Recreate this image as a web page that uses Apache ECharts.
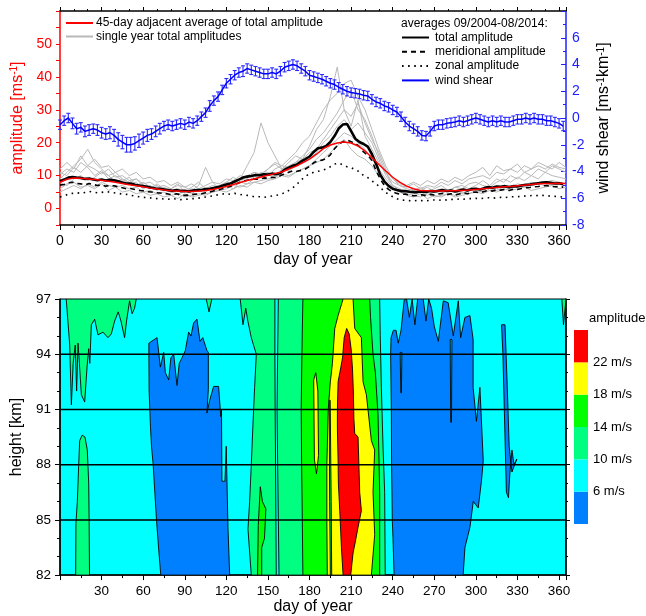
<!DOCTYPE html>
<html><head><meta charset="utf-8">
<script src="https://cdn.jsdelivr.net/npm/echarts@6/dist/echarts.min.js"></script>
<style>html,body{margin:0;padding:0;background:#fff}#c{width:646px;height:616px}</style>
</head><body><div id="c"></div>
<script>
const FONT = 'Liberation Sans, Arial, sans-serif';

// ===== top panel: daily means sampled every 3 days (day 0..363) =====
const totalAmp = [
8.3,8.8,9.4,9.6,9.4,9.3,9.0,9.1,8.8,8.6,
8.8,8.5,8.7,8.6,8.3,7.9,7.6,7.6,7.2,7.0,
6.8,6.6,6.3,6.1,6.0,5.8,5.6,5.4,5.6,5.3,
5.4,5.2,5.5,5.6,5.6,5.9,6.0,6.2,6.5,6.9,
7.3,7.6,8.2,8.8,9.4,9.7,9.9,10.2,10.1,10.4,
10.3,10.6,10.4,10.8,11.8,12.4,13.0,13.4,14.3,15.0,
15.8,17.2,18.3,18.5,19.0,20.2,22.0,24.3,25.5,25.7,
23.5,21.2,20.2,19.6,18.8,16.5,13.6,10.3,8.2,6.9,
6.0,5.6,5.3,5.3,5.1,5.0,5.0,5.2,5.0,5.3,
5.2,5.4,5.6,5.3,5.5,5.2,5.5,5.8,5.5,5.9,
6.0,5.8,6.2,6.5,6.3,6.7,6.6,6.8,6.5,6.8,
6.7,7.0,7.2,7.3,7.5,7.7,7.9,8.0,7.8,7.6,
7.7,7.4];
const meridAmp = [
7.1,7.3,7.8,8.0,7.6,7.5,7.2,7.6,7.3,7.0,
7.2,6.8,7.0,6.9,6.6,6.3,6.0,6.1,5.8,5.5,
5.4,5.1,5.0,4.8,4.7,4.6,4.4,4.2,4.5,4.1,
4.0,4.1,4.3,4.4,4.5,4.8,5.0,5.4,5.6,6.0,
6.4,6.8,7.3,7.8,8.3,8.6,8.8,9.0,8.9,9.3,
9.2,9.5,9.4,10.0,10.5,11.0,11.5,11.3,11.6,12.0,
12.8,13.9,14.5,14.7,15.2,16.3,18.2,19.5,20.3,20.8,
20.3,19.8,18.8,17.2,16.2,14.6,11.5,9.0,7.0,5.8,
5.0,4.6,4.3,4.4,4.1,3.9,4.0,4.2,3.9,4.3,
4.1,4.4,4.6,4.2,4.5,4.1,4.4,4.8,4.5,4.9,
5.0,4.8,5.2,5.5,5.3,5.7,5.6,5.8,5.5,5.9,
5.8,6.1,6.3,6.4,6.6,6.7,6.9,7.0,6.8,6.6,
6.7,6.5];
const zonalAmp = [
3.5,3.8,4.4,4.6,4.8,4.6,4.9,5.2,5.0,4.8,
4.9,5.1,5.0,4.8,4.6,4.4,4.3,4.0,3.8,3.6,
3.4,3.3,3.2,3.0,3.1,2.9,2.8,3.0,2.9,2.7,
2.9,2.8,3.0,3.1,3.3,3.5,3.7,3.9,4.2,4.4,
4.5,4.3,4.6,4.4,4.1,4.0,3.8,3.5,3.6,3.4,
3.6,3.8,4.0,4.3,4.8,5.5,6.3,7.4,8.7,9.8,
10.5,11.0,11.3,11.6,12.0,12.7,13.5,13.8,13.3,12.7,
12.4,11.8,11.2,10.0,9.4,8.4,7.5,6.4,5.2,4.3,
3.6,3.0,2.6,2.5,2.4,2.3,2.5,2.4,2.3,2.5,
2.6,2.5,2.7,2.6,2.8,2.7,2.9,2.8,3.0,3.0,
3.1,3.0,3.2,3.3,3.1,3.3,3.4,3.3,3.5,3.6,
3.6,3.7,3.8,3.9,4.0,3.9,4.0,3.9,3.8,3.7,
3.6,3.5];
const windShear = [
-0.5,-0.2,0.0,-0.4,-0.8,-0.7,-1.0,-0.9,-0.8,-0.9,
-1.1,-1.2,-1.1,-1.3,-1.6,-1.8,-2.0,-2.0,-1.9,-1.7,
-1.5,-1.3,-1.2,-1.0,-0.8,-0.6,-0.5,-0.6,-0.5,-0.4,
-0.5,-0.3,-0.4,-0.2,0.1,0.4,0.9,1.3,1.6,2.1,
2.6,2.9,3.2,3.4,3.5,3.7,3.6,3.5,3.4,3.3,
3.3,3.4,3.3,3.5,3.8,3.9,4.0,3.9,3.7,3.5,
3.2,3.1,3.0,2.9,2.75,2.6,2.5,2.3,2.15,2.0,
1.9,1.85,1.8,1.7,1.65,1.4,1.2,1.1,0.9,0.8,
0.6,0.45,0.1,-0.3,-0.6,-0.8,-1.0,-1.3,-1.35,-1.0,
-0.6,-0.5,-0.5,-0.4,-0.35,-0.3,-0.2,-0.3,-0.2,-0.1,
0.0,-0.1,-0.2,-0.3,-0.2,-0.3,-0.2,-0.3,-0.3,-0.2,
-0.1,-0.1,0.0,-0.1,0.0,-0.1,-0.1,-0.2,-0.2,-0.3,
-0.4,-0.6];
const windErr = [
0.35,0.35,0.35,0.4,0.4,0.35,0.4,0.4,0.35,0.4,
0.4,0.4,0.45,0.45,0.5,0.5,0.55,0.55,0.5,0.5,
0.45,0.45,0.4,0.4,0.4,0.35,0.35,0.35,0.35,0.35,
0.35,0.35,0.35,0.35,0.35,0.35,0.4,0.35,0.35,0.35,
0.35,0.35,0.35,0.35,0.4,0.35,0.35,0.35,0.35,0.35,
0.35,0.35,0.35,0.35,0.35,0.35,0.35,0.35,0.35,0.35,
0.35,0.35,0.35,0.35,0.35,0.35,0.35,0.35,0.35,0.35,
0.35,0.35,0.35,0.35,0.35,0.35,0.35,0.35,0.35,0.35,
0.35,0.35,0.35,0.35,0.35,0.35,0.35,0.35,0.35,0.35,
0.35,0.35,0.35,0.35,0.35,0.35,0.35,0.35,0.35,0.35,
0.35,0.35,0.35,0.35,0.35,0.35,0.35,0.35,0.35,0.35,
0.35,0.35,0.35,0.35,0.35,0.35,0.35,0.35,0.35,0.35,
0.35,0.35];

// 45-day running mean, every 5 days (day 0..365)
const avg45 = [
8.0,8.9,9.3,9.2,9.0,8.8,8.6,8.3,8.0,7.6,
7.2,6.9,6.6,6.2,5.9,5.6,5.4,5.3,5.2,5.2,
5.3,5.5,5.8,6.2,6.7,7.3,7.9,8.5,9.0,9.6,
10.1,10.6,11.1,12.0,12.8,13.9,15.0,16.5,18.2,19.3,
19.9,20.2,19.9,19.0,17.5,15.5,13.4,11.4,9.5,8.0,
6.8,6.0,5.5,5.4,5.3,5.3,5.4,5.4,5.5,5.6,
5.8,6.0,6.2,6.4,6.6,6.7,6.9,7.1,7.3,7.5,
7.6,7.6,7.7,7.6];

// single years, every 5 days (day 0..365)
const year1 = [10.5,12,11,14,12.5,10,11.5,9,10,8.5, 9.5,7,8,6.5,7,5.5,6,7.5,5,6.5, 8,6,7,6.5,8,9.5,8,10,11,9.5, 12,13.5,12,14,16,15,19,24,27,34, 43,30,25,33,22,18,14,11,8,7, 6,5.5,6.5,5,6,7,5.5,6.5,6,7.5, 8,7,6.5,8,9,8,9.5,8.5,10,9, 11,10,9.5,9];
const year2 = [6,7.5,8,6.5,7,6,7.5,5.5,6.5,5, 5.5,4.5,5,4,4.5,3.5,4,3,4.5,3.5, 4,4.5,5,5.5,5,6,7,6.5,8,7.5, 8.5,9,10,9.5,11,12,13,14,15,17, 19,21,18,16,15,13,10,8,6,5, 4.5,4,3.5,4.5,3.5,4,4.5,3.5,4,4.5, 5,4.5,5.5,5,6,5.5,6,6.5,5.5,6, 6.5,7,6,6.5];
const year3 = [9,11,13,15,18,14,12,10,11,9, 8,9,7,6,7.5,6,5,6,5.5,4.5, 6,5,6.5,7,8,7.5,9,13,17,26, 20,16,12,13,14,16,18,21,23,26, 29,33,36,30,27,22,16,11,7,6, 5,6,5.5,6.5,5,6,5,6.5,7,6, 7,8.5,7,9,8,10,9,11,10,12, 11,13,12,11];
const year4 = [8,7,9,10,8.5,9.5,11,10,8,9, 7.5,8,6,7,5.5,6.5,5,4.5,5,6, 5.5,6,5,6.5,7,6,8,7.5,9,10, 11,10,12,11.5,13,14,15,17,20,22, 25,27,24,26,23,20,15,10,7,5.5, 5,4.5,5,4,5,4.5,5.5,5,4.5,5.5, 6,5.5,6.5,6,7,6.5,7.5,7,8,7.5, 8,8.5,8,7.5];
const year5 = [11,10,12.5,11,13,12,10.5,12,9.5,10, 8.5,9,7.5,8,6.5,7,6,7,6.5,5.5, 7,12.5,8,6,7.5,8,9,8.5,9.5,11, 10,12,13,12.5,14,15,17,18,21,24, 27,30,28,32,26,21,17,12,9,7.5, 7,8,7,8.5,7.5,9,8,9.5,8.5,10, 11,12.5,10,13,11.5,12,13.5,11,12,13, 12,13.5,12.5,12];
const year6 = [5,6,7,6,7.5,6.5,8,7,6.5,7, 6,6.5,5,5.5,4.5,5,4,4.5,3.5,4, 4.5,4,5,5.5,6,7,6.5,7.5,8,8.5, 9,9.5,10.5,10,11,12,13,15,17,19, 21,23,22,20,18,15,12,9,6.5,5, 4,3.5,4.5,3,4,3.5,4.5,4,5,4.5, 5.5,5,6,5.5,6.5,6,7,6.5,7,7.5, 7,7.5,8,7.5];
const year7 = [12,14,12,16,13,15,12.5,13,11,12, 10,11,9,9.5,8,8.5,7,8,6.5,7.5, 6,7,8,7.5,9,8.5,10,9,11,10.5, 12,14,13,15,17,20,22,26,30,33, 35,38,39,34,30,24,18,13,9,7, 6.5,7.5,6,7,6.5,8,7,8.5,7.5,9, 9.5,10,9,11,10.5,12,11,13,12,14, 13,12,14,12.5];
const singleYears = [year1, year2, year3, year4, year5, year6, year7];

// ===== bottom panel: contour regions [day, height km] =====
const blueSpring = [[72.7,82],[71.4,83.2],[69.6,85],[68.4,86.5],[67.2,88],[66,89],[65.3,90],[64.3,92],[64.1,94],[64.1,94.6],[70,94.9],[72.4,93.3],[74.8,94.1],[76,93],[78.4,92.6],[80,93.8],[82,94],[84.4,92.3],[86,93.5],[88,93.8],[90.4,94.2],[92.8,95.2],[94.5,95],[96.4,95.7],[98.8,95.9],[101,94.7],[103,94.9],[106,94.2],[107,94.1],[107,92.1],[106,90.8],[108,91.5],[110.8,92.25],[114.4,92.25],[116,90.6],[116.5,91],[116.8,87.1],[119,87.1],[119.9,89],[120.5,86.9],[121.2,84.5],[122.4,82]];
const blueAutumn = [[241,82],[240.2,84],[239.7,85],[239.2,88],[239,91],[238.5,94],[238.8,94.9],[240.5,95.3],[242.4,95.3],[244,94.6],[246,95.3],[248.3,96.95],[250,97],[252,96],[254,97],[256,95.6],[258,97],[262,97],[264,95.8],[266,97],[268,96.5],[270,95.5],[272.9,94.7],[276.5,96.9],[280,96.8],[283.7,95],[287.3,96.9],[289,94.9],[292.1,96],[295.7,96.1],[298,94.8],[298,92.2],[300.4,90.35],[302.9,92.2],[305.3,88.2],[304,87.1],[301.7,85.65],[298.1,86],[295.7,84.6],[292.1,83.5],[290.8,82]];
const blueSliver = [[318.5,95.6],[319.5,94],[320.5,91],[321.5,88],[322,86.5],[323.5,86.2],[324.5,87.5],[326,88.8],[327.5,88],[329.5,88.3],[326,87.6],[324,89],[322.5,92.5],[321,95.6]];
const cyanSliverA = [[281.5,94.8],[282.7,94.8],[282.4,90.3],[281.8,90.3]];
const cyanSliverB = [[245.4,94.1],[246.6,94.1],[246.3,91.9],[245.8,91.9]];
const springTopLeft = [[4.5,97],[55,97],[53.8,96.5],[52,96.2],[50.2,96.9],[48,95.8],[46.6,94.9],[44,95.8],[42,96.3],[39.4,95.8],[37,95.1],[34.6,94.9],[31,95.2],[27.4,95.05],[25,95.9],[22.6,95.6],[21.5,93.5],[20.7,94.3],[19.5,93.3],[17.8,91.4],[15.4,91.8],[14,93.5],[13,94.6],[12,92],[11,94.5],[9.5,93.5],[8.2,91.25],[7,94.5],[5.5,96]];
const springBottomLeft = [[14.2,89.3],[16,89.6],[18,89.5],[19.7,88.8],[20.7,87],[21,85],[21.3,82],[11.3,82],[11.5,84.8],[12.5,86],[13.5,88]];
const springSummer = [[130,97],[132,95.6],[134,96.5],[135.5,95.8],[138,94.9],[141.6,94],[140.4,92.2],[139.2,90.2],[138,88],[136.8,86],[135.6,84.5],[138,82],[234.6,82],[234.2,86.5],[233,89],[231.8,92.2],[231,95],[230.6,97]];
const springBitA = [[105.5,97],[107.5,96.3],[109.5,97]];
const springBitB = [[362,97],[363.2,95.6],[364.5,96.6],[365,97]];
const cyanStrip = [[155,97],[157.5,97],[157,94],[156.6,91],[157,88],[158,82],[156,82],[155.5,88],[155.2,91],[155,94]];
const greenMain = [[175.2,97],[174.5,94],[174,91],[174.3,88],[174.8,85],[175.2,82],[230.6,82],[230.6,86.5],[229.4,90.7],[227.5,93],[225.8,94],[224,96],[223.4,97]];
const greenIsland = [[142.5,82],[143,84.7],[144.5,86.8],[146,86],[148.5,85.6],[147.5,84],[145.5,83.5],[145.5,82]];
const yellowMain = [[204.2,97],[200.6,96.1],[198.2,95.4],[196.5,93.5],[195,92.5],[193.5,91],[192.5,88],[192.5,85],[192.8,82],[224.6,82],[227,84.2],[225.8,86.5],[227,88.8],[224.6,89.3],[221,91.8],[218.6,92.5],[217.4,94.9],[212.6,95.4],[211.4,97]];
const yellowIsland = [[183,92.6],[184.5,93],[186,92],[186.5,88.5],[185,87.5],[183.5,88.3]];
const greenSliver = [[194.2,91.5],[194.9,91.5],[195.6,86],[196,82],[195,82],[194.5,86]];
const redCore = [[206.8,95.4],[208.6,95.1],[210,94.3],[211,93.2],[211.6,92],[212,90.5],[212.6,89.7],[215,89.5],[215.8,87.5],[216.2,86.5],[217.4,85.5],[215,84.6],[213,83.8],[211.4,83.2],[209.7,82],[204.2,82],[203,83.5],[201.8,85.5],[200.8,87],[200.6,88.2],[200.1,90],[200.1,91],[200.6,92.5],[202.6,93.3],[203.8,93.8],[205,94.9]];

// amplitude classes (m/s) and colours
const levels = [2, 6, 10, 14, 18, 22, 26];
const bandColors = ['#0080FF','#00FFFF','#00FF80','#00FF00','#FFFF00','#FF0000'];
const regions = [
  {pts: blueSpring, band: 0}, {pts: blueAutumn, band: 0}, {pts: blueSliver, band: 0},
  {pts: cyanSliverA, band: 1}, {pts: cyanSliverB, band: 1},
  {pts: springTopLeft, band: 2}, {pts: springBottomLeft, band: 2}, {pts: springSummer, band: 2},
  {pts: springBitA, band: 2}, {pts: springBitB, band: 2},
  {pts: cyanStrip, band: 1}, {pts: greenMain, band: 3}, {pts: greenIsland, band: 3},
  {pts: yellowMain, band: 4}, {pts: yellowIsland, band: 4}, {pts: greenSliver, band: 3},
  {pts: redCore, band: 5}
];
const heightLines = [85, 88, 91, 94];

// ===== build =====
const d3 = totalAmp.map((_, i) => i * 3);
const d5 = avg45.map((_, i) => i * 5);
const pair = (days, vals) => vals.map((v, i) => [days[i], v]);
const tickStyle = {color: '#000'};
const baseLabel = {color: '#000', fontFamily: FONT, fontSize: 14};
const noZero = (o) => Object.assign({onZero: false}, o);

const series = [];
singleYears.forEach(y => series.push({
  type: 'line', name: 'single year total amplitudes', xAxisIndex: 0, yAxisIndex: 0,
  data: pair(d5, y), symbol: 'none', silent: true, z: 2,
  lineStyle: {color: '#b8b8b8', width: 1}, itemStyle: {color: '#b8b8b8'}
}));
series.push({type: 'line', name: 'zonal amplitude', xAxisIndex: 0, yAxisIndex: 0, data: pair(d3, zonalAmp),
  symbol: 'none', silent: true, z: 3, lineStyle: {color: '#000', width: 1.6, type: [1.6, 4.5]}, itemStyle: {color: '#000'}});
series.push({type: 'line', name: 'meridional amplitude', xAxisIndex: 0, yAxisIndex: 0, data: pair(d3, meridAmp),
  symbol: 'none', silent: true, z: 3, lineStyle: {color: '#000', width: 1.6, type: [5, 4]}, itemStyle: {color: '#000'}});
series.push({type: 'line', name: 'total amplitude', xAxisIndex: 0, yAxisIndex: 0, data: pair(d3, totalAmp),
  symbol: 'none', silent: true, z: 4, lineStyle: {color: '#000', width: 2.6}, itemStyle: {color: '#000'}});
series.push({type: 'line', name: '45-day adjacent average of total amplitude', xAxisIndex: 0, yAxisIndex: 0,
  data: pair(d5, avg45), symbol: 'none', silent: true, z: 5, lineStyle: {color: '#FF0000', width: 1.5}, itemStyle: {color: '#FF0000'}});
series.push({type: 'custom', name: 'err', xAxisIndex: 0, yAxisIndex: 1, silent: true, z: 6,
  data: windShear.map((v, i) => [d3[i], v, windErr[i]]), encode: {x: 0, y: 1},
  renderItem: (params, api) => {
    const x = api.value(0), y = api.value(1), e = api.value(2);
    const t = api.coord([x, y + e]), b = api.coord([x, y - e]);
    const st = {stroke: '#2a2aff', lineWidth: 1.1, fill: null};
    return {type: 'group', children: [
      {type: 'line', shape: {x1: t[0], y1: t[1], x2: b[0], y2: b[1]}, style: st},
      {type: 'line', shape: {x1: t[0] - 2, y1: t[1], x2: t[0] + 2, y2: t[1]}, style: st},
      {type: 'line', shape: {x1: b[0] - 2, y1: b[1], x2: b[0] + 2, y2: b[1]}, style: st}
    ]};
  }});
series.push({type: 'line', name: 'wind shear', xAxisIndex: 0, yAxisIndex: 1, data: pair(d3, windShear),
  symbol: 'none', silent: true, z: 7, lineStyle: {color: '#0000FF', width: 1.5}, itemStyle: {color: '#0000FF'}});

// contour map
series.push({type: 'custom', name: 'map', xAxisIndex: 2, yAxisIndex: 2, silent: true, clip: true, z: 1,
  data: regions.map((r, i) => [r.pts[0][0], r.pts[0][1], i]), encode: {x: 0, y: 1},
  renderItem: (params, api) => {
    const r = regions[api.value(2)];
    return {type: 'polygon', shape: {points: r.pts.map(p => api.coord(p))},
      style: {fill: bandColors[r.band], stroke: '#000', lineWidth: 0.9}};
  }});
heightLines.forEach(h => series.push({type: 'line', xAxisIndex: 2, yAxisIndex: 2, silent: true, z: 3,
  data: [[0, h], [365, h]], symbol: 'none', lineStyle: {color: '#000', width: 1.5}}));
// colour bar
series.push({type: 'custom', xAxisIndex: 4, yAxisIndex: 4, silent: true,
  data: bandColors.map((c, i) => [0, levels[i], levels[i + 1], i]), encode: {x: 0, y: 1},
  renderItem: (params, api) => {
    const lo = api.coord([0, api.value(1)]), hi = api.coord([0, api.value(2)]);
    const w = api.size([1, 0])[0];
    return {type: 'rect', shape: {x: lo[0] - w / 2, y: hi[1], width: w, height: lo[1] - hi[1]},
      style: {fill: bandColors[api.value(3)]}};
  }});

const legendItemStyle = {opacity: 0, color: 'transparent', borderColor: 'transparent', borderWidth: 0};
const option = {
  animation: false,
  textStyle: {fontFamily: FONT},
  grid: [
    {left: 60, top: 11, width: 506, height: 214},
    {left: 60, top: 299, width: 506, height: 277, show: true, backgroundColor: '#00FFFF', borderColor: '#000', borderWidth: 1},
    {left: 574, top: 330, width: 14, height: 194}
  ],
  xAxis: [
    {gridIndex: 0, type: 'value', min: 0, max: 365, interval: 30, position: 'bottom',
     name: 'day of year', nameLocation: 'middle', nameGap: 27, nameTextStyle: {fontSize: 16, color: '#000', fontFamily: FONT},
     axisLine: noZero({lineStyle: {color: '#000', width: 1.5}}), axisTick: {length: 5, lineStyle: tickStyle},
     minorTick: {show: true, splitNumber: 3, length: 3, lineStyle: tickStyle},
     axisLabel: Object.assign({}, baseLabel, {margin: 9, formatter: v => v % 30 === 0 ? String(v) : ''}),
     splitLine: {show: false}},
    {gridIndex: 0, type: 'value', min: 0, max: 365, interval: 30, position: 'top',
     axisLine: noZero({lineStyle: {color: '#000', width: 1.5}}), axisTick: {length: 4, lineStyle: tickStyle},
     minorTick: {show: true, splitNumber: 3, length: 2, lineStyle: tickStyle},
     axisLabel: {show: false}, splitLine: {show: false}},
    {gridIndex: 1, type: 'value', min: 0, max: 365, interval: 30, position: 'bottom',
     name: 'day of year', nameLocation: 'middle', nameGap: 21, nameTextStyle: {fontSize: 16, color: '#000', fontFamily: FONT},
     axisLine: noZero({lineStyle: {color: '#000', width: 1.5}}), axisTick: {length: 5, lineStyle: tickStyle},
     minorTick: {show: true, splitNumber: 2, length: 3, lineStyle: tickStyle},
     axisLabel: Object.assign({}, baseLabel, {fontSize: 13.5, margin: 9, formatter: v => (v % 30 === 0 && v > 0) ? String(v) : ''}),
     splitLine: {show: false}},
    {gridIndex: 1, type: 'value', min: 0, max: 365, position: 'top', show: false},
    {gridIndex: 2, type: 'category', data: ['amp'], show: false}
  ],
  yAxis: [
    {gridIndex: 0, type: 'value', min: -5, max: 60, interval: 5, position: 'left',
     name: 'amplitude [ms{sup|-1}]', nameLocation: 'middle', nameGap: 22,
     nameTextStyle: {fontSize: 16, color: '#FF0000', fontFamily: FONT, rich: {sup: {fontSize: 10, color: '#FF0000', verticalAlign: 'top', fontFamily: FONT}}},
     axisLine: noZero({lineStyle: {color: '#FF0000', width: 1.5}}), axisTick: {length: 4, lineStyle: {color: '#FF0000'}},
     axisLabel: {color: '#FF0000', fontSize: 14, fontFamily: FONT, margin: 8, formatter: v => (v % 10 === 0 && v >= 0 && v <= 50) ? String(v) : ''},
     splitLine: {show: false}},
    {gridIndex: 0, type: 'value', min: -8, max: 8, interval: 2, position: 'right',
     name: 'wind shear [ms{sup|-1}km{sup|-1}]', nameLocation: 'middle', nameGap: 30,
     nameTextStyle: {fontSize: 16, color: '#000', fontFamily: FONT, rich: {sup: {fontSize: 10, color: '#000', verticalAlign: 'top', fontFamily: FONT}}},
     axisLine: noZero({lineStyle: {color: '#2020FF', width: 1.5}}), axisTick: {inside: true, length: 5, lineStyle: {color: '#2020FF'}},
     minorTick: {show: true, splitNumber: 2, length: 3, lineStyle: {color: '#2020FF'}},
     axisLabel: {color: '#2020FF', fontSize: 14, fontFamily: FONT, margin: 6, formatter: v => v === 8 ? '' : String(v)},
     splitLine: {show: false}},
    {gridIndex: 1, type: 'value', min: 82, max: 97, interval: 3, position: 'left',
     name: 'height [km]', nameLocation: 'middle', nameGap: 35,
     nameTextStyle: {fontSize: 16, color: '#000', fontFamily: FONT},
     axisLine: noZero({lineStyle: {color: '#000', width: 1.5}}), axisTick: {length: 5, lineStyle: tickStyle},
     minorTick: {show: true, splitNumber: 3, length: 3, lineStyle: tickStyle},
     axisLabel: Object.assign({}, baseLabel, {fontSize: 13.5, margin: 9}), splitLine: {show: false}},
    {gridIndex: 1, type: 'value', min: 82, max: 97, interval: 3, position: 'right',
     axisLine: noZero({lineStyle: {color: '#000', width: 1.5}}), axisTick: {length: 4, lineStyle: tickStyle},
     minorTick: {show: true, splitNumber: 3, length: 2, lineStyle: tickStyle},
     axisLabel: {show: false}, splitLine: {show: false}},
    {gridIndex: 2, type: 'value', min: 2, max: 26, interval: 4, position: 'right',
     axisLine: {show: false}, axisTick: {show: false}, splitLine: {show: false},
     axisLabel: {color: '#000', fontSize: 13, fontFamily: FONT, margin: 5,
       formatter: v => (v > 2 && v < 26) ? v + ' m/s' : ''}}
  ],
  legend: [
    {data: ['45-day adjacent average of total amplitude', 'single year total amplitudes'],
     orient: 'vertical', left: 65, top: 17, padding: 0, itemWidth: 27, itemHeight: 10, itemGap: 1.5,
     selectedMode: false, itemStyle: legendItemStyle,
     textStyle: {fontSize: 12, color: '#000', fontFamily: FONT, padding: [0, 0, 0, -2]}},
    {data: ['total amplitude', 'meridional amplitude', 'zonal amplitude', 'wind shear'],
     orient: 'vertical', left: 401, top: 31.5, padding: 0, itemWidth: 27, itemHeight: 10, itemGap: 2.3,
     selectedMode: false, itemStyle: legendItemStyle,
     textStyle: {fontSize: 12, color: '#000', fontFamily: FONT, padding: [0, 0, 0, 1]}}
  ],
  graphic: [
    {type: 'text', left: 401, top: 17.5, style: {text: 'averages 09/2004-08/2014:', fontSize: 12, fill: '#000', fontFamily: FONT}},
    {type: 'text', left: 589, top: 312, style: {text: 'amplitude', fontSize: 13, fill: '#000', fontFamily: FONT}}
  ],
  series: series
};
const chart = echarts.init(document.getElementById('c'), null, {renderer: 'canvas'});
chart.setOption(option);
</script></body></html>
